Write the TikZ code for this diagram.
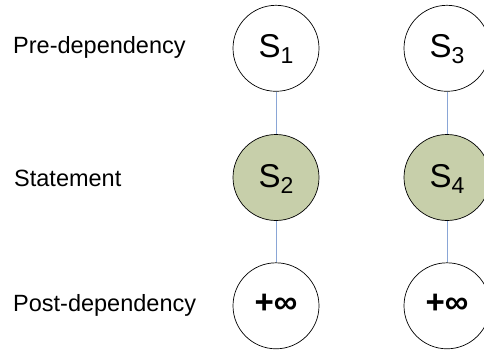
\documentclass[tikz,border=0pt]{standalone}
\usepackage{fontspec}
\setmainfont{Liberation Sans}
\begin{document}
\begin{tikzpicture}[x=1pt,y=-1pt,
  state/.style={circle,draw=black,line width=0.7pt,minimum size=86pt,inner sep=0pt},
  stmt/.style={state,fill=stmtfill},
  rowlabel/.style={anchor=base west,inner sep=0pt,font=\fontsize{23.5}{23.5}\selectfont},
  dep/.style={draw=deplink,line width=0.8pt}]
\definecolor{stmtfill}{HTML}{C7CFAA}
\definecolor{deplink}{HTML}{8AA6D6}
\useasboundingbox (0,0) rectangle (484,350);
\begin{scope}
\clip (0,0) rectangle (484,350);
% row labels
\node[rowlabel] (lpre)  at (13,53.3)  {Pre-dependency};
\node[rowlabel] (lstmt) at (14,186.7) {Statement};
\node[rowlabel] (lpost) at (13,311.7) {Post-dependency};
% first chain
\node[state] (s1) at (276,48.3) {};
\node[stmt]  (s2) at (276,177.5) {};
\node[state] (p1) at (276,305.8) {};
% second chain
\node[state] (s3) at (447,48.3) {};
\node[stmt]  (s4) at (447,177.5) {};
\node[state] (p2) at (447,305.8) {};
% dependency links
\draw[dep] (s1) -- (s2);
\draw[dep] (s2) -- (p1);
\draw[dep] (s3) -- (s4);
\draw[dep] (s4) -- (p2);
% labels inside the circles
\foreach \n/\k in {s1/1,s2/2,s3/3,s4/4}{
  \node[inner sep=0pt,anchor=base] at ([yshift=-9.5pt]\n.center)
    {\fontsize{33}{33}\selectfont S\raisebox{-6pt}{\fontsize{23}{23}\selectfont\k}};
}
\foreach \n in {p1,p2}{
  \node[inner sep=0pt] at ([yshift=1.5pt]\n.center) {\fontsize{33}{33}\selectfont\bfseries +∞};
}
\end{scope}
\end{tikzpicture}
\end{document}
